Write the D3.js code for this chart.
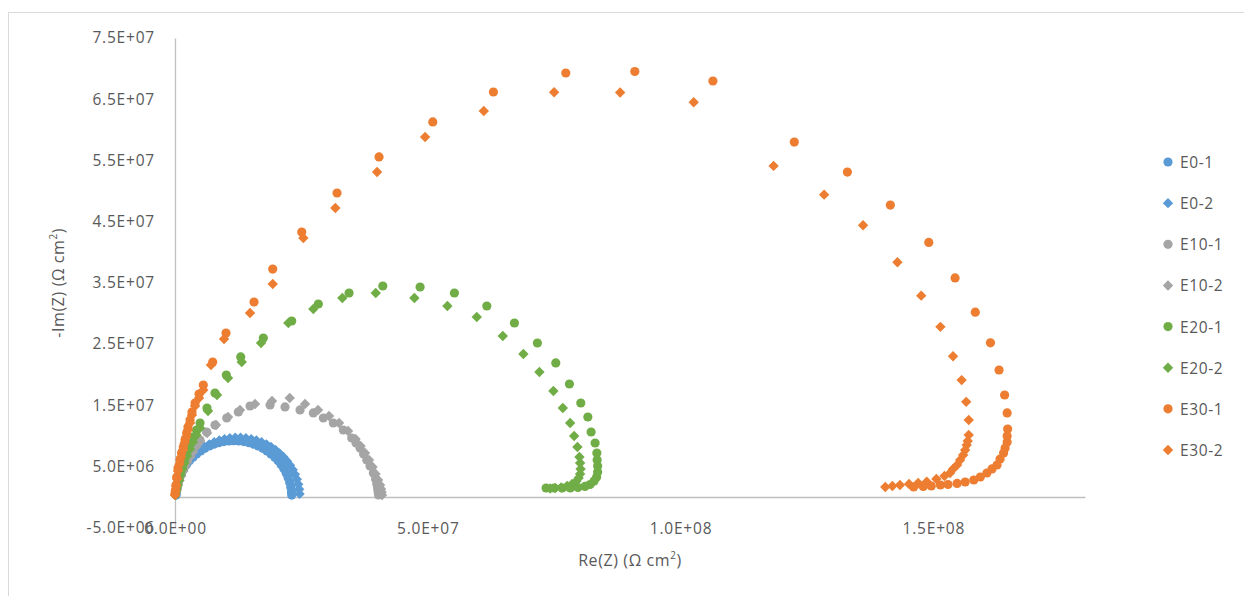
<!DOCTYPE html>
<html>
<head>
<meta charset="utf-8">
<script src="https://cdn.jsdelivr.net/npm/d3@7"></script>
<style>
  html, body { margin: 0; padding: 0; background: #ffffff; }
  svg text { font-family: "Open Sans", "Liberation Sans", sans-serif; fill: #595959; }
</style>
</head>
<body>
<svg id="chart" width="1244" height="596"></svg>
<script>
// ---- data: [Re(Z), -Im(Z)] in ohm cm2 ----
const seriesNames = ["E0-1", "E0-2", "E10-1", "E10-2", "E20-1", "E20-2", "E30-1", "E30-2"];
const seriesColors = ["#5B9BD5", "#5B9BD5", "#A5A5A5", "#A5A5A5", "#70AD47", "#70AD47", "#ED7D31", "#ED7D31"];
const seriesShapes = ["circle", "diamond", "circle", "diamond", "circle", "diamond", "circle", "diamond"];

const e0_1 = [[0.2e6,0.32e6],[0.24e6,0.81e6],[0.37e6,1.6e6],[0.58e6,2.38e6],[0.89e6,3.14e6],[1.26e6,3.88e6],[1.72e6,4.6e6],[2.26e6,5.28e6],[2.87e6,5.91e6],[3.55e6,6.5e6],[4.28e6,7.04e6],[5.08e6,7.53e6],[5.91e6,7.95e6],[6.8e6,8.34e6],[7.71e6,8.64e6],[8.66e6,8.88e6],[9.65e6,9.05e6],[10.64e6,9.16e6],[11.63e6,9.2e6],[12.62e6,9.16e6],[13.61e6,9.05e6],[14.6e6,8.88e6],[15.55e6,8.64e6],[16.46e6,8.34e6],[17.36e6,7.95e6],[18.19e6,7.53e6],[18.98e6,7.04e6],[19.72e6,6.5e6],[20.39e6,5.91e6],[21.0e6,5.28e6],[21.54e6,4.6e6],[22.01e6,3.88e6],[22.37e6,3.14e6],[22.69e6,2.38e6],[22.9e6,1.6e6],[23.04e6,0.81e6],[23.08e6,0.32e6]];

const e0_2 = [[0.23e6,0.51e6],[0.31e6,1.26e6],[0.48e6,2.09e6],[0.77e6,2.9e6],[1.14e6,3.7e6],[1.59e6,4.46e6],[2.12e6,5.2e6],[2.73e6,5.9e6],[3.42e6,6.54e6],[4.18e6,7.13e6],[5.0e6,7.69e6],[5.87e6,8.17e6],[6.79e6,8.6e6],[7.75e6,8.95e6],[8.77e6,9.25e6],[9.79e6,9.45e6],[10.85e6,9.6e6],[11.91e6,9.67e6],[12.96e6,9.67e6],[14.02e6,9.6e6],[15.08e6,9.45e6],[16.1e6,9.25e6],[17.12e6,8.95e6],[18.08e6,8.6e6],[18.99e6,8.17e6],[19.87e6,7.69e6],[20.68e6,7.13e6],[21.43e6,6.54e6],[22.13e6,5.9e6],[22.74e6,5.2e6],[23.28e6,4.46e6],[23.72e6,3.7e6],[24.09e6,2.9e6],[24.37e6,2.09e6],[24.56e6,1.26e6],[24.64e6,0.51e6]];

const e10_1 = [[0.2e6,0.82e6],[0.4e6,1.47e6],[0.59e6,2.12e6],[0.89e6,2.94e6],[1.19e6,3.59e6],[1.58e6,4.41e6],[1.98e6,5.23e6],[2.47e6,6.05e6],[2.97e6,6.86e6],[3.56e6,7.68e6],[4.25e6,8.5e6],[4.95e6,9.31e6],[6.27e6,10.62e6],[7.91e6,11.76e6],[10.23e6,12.91e6],[12.52e6,13.89e6],[14.84e6,14.87e6],[18.8e6,15.03e6],[21.76e6,14.71e6],[24.73e6,14.22e6],[27.36e6,13.73e6],[29.34e6,12.91e6],[31.32e6,12.09e6],[33.3e6,10.95e6],[34.96e6,9.64e6],[35.81e6,8.82e6],[36.6e6,8.0e6],[37.3e6,7.03e6],[37.93e6,6.05e6],[38.58e6,5.07e6],[39.24e6,3.92e6],[39.67e6,2.94e6],[39.91e6,2.12e6],[40.07e6,1.47e6],[40.17e6,0.98e6],[40.22e6,0.65e6],[40.26e6,0.33e6]];

const e10_2 = [[0.2e6,0.65e6],[0.4e6,1.31e6],[0.59e6,1.96e6],[0.89e6,2.7e6],[1.19e6,3.43e6],[1.58e6,4.17e6],[1.98e6,4.9e6],[2.47e6,5.72e6],[2.97e6,6.54e6],[3.56e6,7.35e6],[4.25e6,8.33e6],[4.95e6,9.15e6],[6.33e6,10.46e6],[8.11e6,11.76e6],[10.49e6,13.07e6],[12.86e6,14.22e6],[15.83e6,15.2e6],[19.19e6,15.69e6],[22.69e6,16.18e6],[25.72e6,15.2e6],[28.29e6,14.22e6],[30.47e6,13.24e6],[32.45e6,12.09e6],[34.23e6,10.78e6],[35.71e6,9.48e6],[36.7e6,8.33e6],[37.59e6,7.19e6],[38.38e6,6.05e6],[39.08e6,4.9e6],[39.67e6,3.76e6],[40.17e6,2.78e6],[40.56e6,1.96e6],[40.76e6,1.31e6],[40.86e6,0.82e6],[40.96e6,0.33e6]];

const e20_1 = [[0.1e6,0.49e6],[0.3e6,1.31e6],[0.49e6,2.12e6],[0.79e6,3.1e6],[1.09e6,4.09e6],[1.48e6,5.07e6],[1.88e6,6.21e6],[2.37e6,7.35e6],[2.97e6,8.66e6],[3.56e6,9.8e6],[4.25e6,10.95e6],[4.95e6,12.09e6],[6.33e6,14.54e6],[7.91e6,16.99e6],[10.15e6,19.93e6],[13.0e6,22.88e6],[17.47e6,25.98e6],[23.09e6,28.76e6],[28.35e6,31.54e6],[34.43e6,33.33e6],[41.1e6,34.48e6],[48.48e6,34.31e6],[55.27e6,33.33e6],[61.68e6,31.21e6],[67.14e6,28.43e6],[71.68e6,25.16e6],[75.32e6,21.9e6],[78.02e6,18.46e6],[80.27e6,15.36e6],[81.66e6,13.07e6],[82.31e6,10.62e6],[83.1e6,8.82e6],[83.44e6,7.19e6],[83.5e6,6.05e6],[83.6e6,5.07e6],[83.6e6,4.09e6],[83.4e6,3.27e6],[82.9e6,2.61e6],[82.1e6,2.04e6],[81.1e6,1.72e6],[79.7e6,1.55e6],[78.2e6,1.47e6],[76.6e6,1.47e6],[75.0e6,1.47e6],[73.4e6,1.47e6]];

const e20_2 = [[0.1e6,0.33e6],[0.3e6,0.98e6],[0.49e6,1.8e6],[0.79e6,2.7e6],[1.09e6,3.59e6],[1.48e6,4.58e6],[1.88e6,5.56e6],[2.37e6,6.7e6],[2.97e6,7.84e6],[3.56e6,8.99e6],[4.25e6,10.13e6],[4.95e6,11.27e6],[6.53e6,14.05e6],[8.31e6,16.67e6],[10.49e6,19.44e6],[13.2e6,22.06e6],[17.02e6,25.16e6],[22.42e6,28.43e6],[27.36e6,30.72e6],[33.1e6,32.52e6],[39.71e6,33.33e6],[47.35e6,32.52e6],[53.88e6,31.21e6],[59.69e6,29.41e6],[64.84e6,26.31e6],[68.91e6,23.37e6],[72.08e6,20.42e6],[74.85e6,17.32e6],[76.71e6,14.54e6],[78.16e6,12.09e6],[78.95e6,9.97e6],[79.6e6,8.17e6],[80.0e6,6.54e6],[80.13e6,5.56e6],[80.23e6,4.58e6],[80.13e6,3.76e6],[79.84e6,3.1e6],[79.34e6,2.53e6],[78.55e6,2.12e6],[77.56e6,1.8e6],[76.37e6,1.55e6],[75.2e6,1.47e6],[74.2e6,1.39e6]];

const e30_1 = [[0,0.49e6],[0.1e6,1.14e6],[0.2e6,1.96e6],[0.34e6,3.27e6],[0.59e6,4.74e6],[0.99e6,6.05e6],[1.29e6,7.19e6],[1.64e6,8.17e6],[1.98e6,9.31e6],[2.31e6,10.46e6],[2.57e6,11.44e6],[2.97e6,12.58e6],[3.36e6,13.89e6],[3.96e6,15.36e6],[4.75e6,16.83e6],[5.6e6,18.3e6],[7.46e6,22.06e6],[10.09e6,26.8e6],[15.63e6,31.86e6],[19.33e6,37.25e6],[25.07e6,43.3e6],[32.05e6,49.67e6],[40.36e6,55.56e6],[50.99e6,61.28e6],[62.98e6,66.18e6],[77.3e6,69.28e6],[90.95e6,69.53e6],[106.4e6,67.97e6],[122.5e6,58.0e6],[133.0e6,53.1e6],[141.5e6,47.7e6],[149.1e6,41.6e6],[154.3e6,35.8e6],[158.3e6,30.2e6],[161.3e6,25.2e6],[163.0e6,20.75e6],[164.1e6,16.67e6],[164.6e6,13.73e6],[164.7e6,11.11e6],[164.6e6,9.97e6],[164.6e6,8.99e6],[164.2e6,8.0e6],[163.9e6,7.19e6],[163.2e6,6.21e6],[162.6e6,5.23e6],[161.6e6,4.58e6],[160.6e6,3.92e6],[159.3e6,3.27e6],[158.0e6,2.78e6],[156.3e6,2.45e6],[154.7e6,2.21e6],[152.9e6,2.04e6],[151.4e6,1.96e6],[149.6e6,1.8e6],[148.0e6,1.72e6],[146.1e6,1.63e6]];

const e30_2 = [[0,0.33e6],[0.1e6,0.98e6],[0.2e6,1.8e6],[0.4e6,2.94e6],[0.59e6,4.25e6],[0.89e6,5.39e6],[1.19e6,6.54e6],[1.58e6,7.68e6],[1.88e6,8.82e6],[2.18e6,9.8e6],[2.57e6,10.95e6],[2.97e6,12.09e6],[3.36e6,13.4e6],[3.96e6,14.87e6],[4.75e6,16.18e6],[5.6e6,17.48e6],[7.12e6,21.57e6],[9.7e6,25.82e6],[14.84e6,30.07e6],[19.33e6,34.8e6],[25.39e6,42.32e6],[31.72e6,47.22e6],[39.97e6,53.1e6],[49.47e6,58.82e6],[61.08e6,63.07e6],[74.99e6,66.13e6],[88.05e6,66.1e6],[102.6e6,64.5e6],[118.4e6,54.1e6],[128.4e6,49.4e6],[136.1e6,44.4e6],[142.9e6,38.35e6],[147.6e6,32.9e6],[151.4e6,27.8e6],[153.9e6,23.0e6],[155.6e6,19.1e6],[156.5e6,15.55e6],[157.0e6,12.58e6],[157.0e6,10.13e6],[156.8e6,9.15e6],[156.6e6,8.5e6],[156.3e6,7.68e6],[155.9e6,6.86e6],[155.3e6,6.05e6],[154.7e6,5.23e6],[153.9e6,4.58e6],[153.3e6,3.92e6],[152.2e6,3.43e6],[150.6e6,2.94e6],[148.7e6,2.5e6],[147.0e6,2.29e6],[145.2e6,2.12e6],[143.4e6,1.96e6],[141.9e6,1.8e6],[140.5e6,1.63e6]];

const seriesData = [e0_1, e0_2, e10_1, e10_2, e20_1, e20_2, e30_1, e30_2];

const xTicks = [0, 5e7, 1e8, 1.5e8];
const yTicks = [-5e6, 5e6, 1.5e7, 2.5e7, 3.5e7, 4.5e7, 5.5e7, 6.5e7, 7.5e7];
const xDomain = [0, 1.8e8];
const yDomain = [-5e6, 7.5e7];

// ---- layout ----
const svg = d3.select("#chart");
const plot = { left: 175, right: 1085, top: 38, bottom: 527.6 };

// chart-area border (only left/top edges fall inside the picture)
svg.append("rect")
  .attr("x", 8.5).attr("y", 12.5).attr("width", 1400).attr("height", 800)
  .attr("fill", "none").attr("stroke", "#D9D9D9").attr("stroke-width", 1);

const x = d3.scaleLinear().domain(xDomain).range([plot.left, plot.right]);
const y = d3.scaleLinear().domain(yDomain).range([plot.bottom, plot.top]);

function sciFmt(v) {
  if (v === 0) return "0.0E+00";
  const s = v.toExponential(1); // e.g. "5.0e+7"
  const [m, e] = s.split("e");
  const sign = e[0] === "-" ? "-" : "+";
  const digits = e.replace(/^[+-]/, "").padStart(2, "0");
  return m + "E" + sign + digits;
}

const axisColor = "#BFBFBF";

// Y axis (crosses at x = 0)
const yAxis = d3.axisLeft(y).tickValues(yTicks).tickFormat(sciFmt).tickSize(0).tickPadding(20);
const gy = svg.append("g").attr("transform", `translate(${x(0)},0)`).call(yAxis);
gy.select(".domain").attr("stroke", axisColor).attr("stroke-width", 1.3);
gy.selectAll("text").attr("font-size", 15.5).attr("letter-spacing", "0.8px")
  .attr("font-family", "'Open Sans', sans-serif").attr("fill", "#595959");

// X axis (crosses at y = 0), labels placed at the bottom of the plot
const xAxis = d3.axisBottom(x).tickValues(xTicks).tickFormat(sciFmt).tickSize(0).tickPadding(0);
const gx = svg.append("g").attr("transform", `translate(0,${y(0)})`).call(xAxis);
gx.select(".domain").attr("stroke", axisColor).attr("stroke-width", 1.3);
gx.selectAll("text").attr("font-size", 15.5).attr("letter-spacing", "0.8px")
  .attr("font-family", "'Open Sans', sans-serif").attr("fill", "#595959")
  .attr("dy", null).attr("y", plot.bottom - y(0)).attr("dominant-baseline", "central");

// axis titles
const xt = svg.append("text").attr("x", (plot.left + plot.right) / 2).attr("y", 566)
  .attr("text-anchor", "middle").attr("font-size", 16).attr("letter-spacing", "0.6px");
xt.append("tspan").text("Re(Z) (Ω cm");
xt.append("tspan").text("2").attr("font-size", 10).attr("dy", -7);
xt.append("tspan").text(")").attr("dy", 7);

const yt = svg.append("text").attr("transform", `translate(64,${(plot.top + plot.bottom) / 2}) rotate(-90)`)
  .attr("text-anchor", "middle").attr("font-size", 16).attr("letter-spacing", "0.6px");
yt.append("tspan").text("-Im(Z) (Ω cm");
yt.append("tspan").text("2").attr("font-size", 10).attr("dy", -7);
yt.append("tspan").text(")").attr("dy", 7);

// markers
const R = 4.6;
const diamondPath = `M0,${-R - 0.6}L${R + 0.6},0L0,${R + 0.6}L${-R - 0.6},0Z`;
function drawMarker(g, shape, color) {
  if (shape === "circle") {
    g.append("circle").attr("r", R).attr("fill", color);
  } else {
    g.append("path").attr("d", diamondPath).attr("fill", color);
  }
}

seriesData.forEach((data, i) => {
  const g = svg.append("g").attr("class", "series");
  const pts = g.selectAll("g").data(data).enter().append("g")
    .attr("transform", d => `translate(${x(d[0])},${y(d[1])})`);
  pts.each(function () { drawMarker(d3.select(this), seriesShapes[i], seriesColors[i]); });
});

// legend
const legend = svg.append("g");
const legY = d3.scalePoint().domain(seriesNames).range([162, 450]);
seriesNames.forEach((name, i) => {
  const row = legend.append("g").attr("transform", `translate(1168,${legY(name)})`);
  drawMarker(row, seriesShapes[i], seriesColors[i]);
  row.append("text").attr("x", 12).attr("y", 0).attr("dominant-baseline", "central")
    .attr("font-size", 15.5).attr("letter-spacing", "0.6px").text(name);
});
</script>
</body>
</html>
